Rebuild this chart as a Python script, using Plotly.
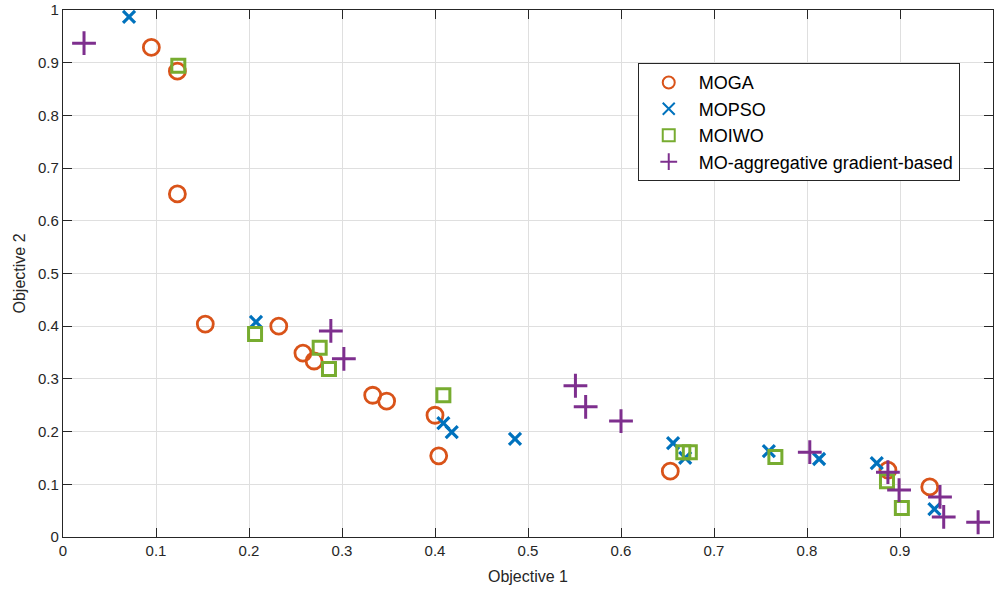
import plotly.graph_objects as go

moga_x = [0.095, 0.123, 0.123, 0.153, 0.232, 0.258, 0.270, 0.333, 0.348, 0.400, 0.404, 0.653, 0.887, 0.932]
moga_y = [0.929, 0.884, 0.651, 0.404, 0.400, 0.349, 0.334, 0.269, 0.258, 0.231, 0.154, 0.125, 0.127, 0.095]

mopso_x = [0.071, 0.2075, 0.409, 0.418, 0.486, 0.656, 0.669, 0.759, 0.813, 0.875, 0.937]
mopso_y = [0.987, 0.408, 0.216, 0.199, 0.186, 0.178, 0.150, 0.163, 0.148, 0.140, 0.053]

moiwo_x = [0.124, 0.2065, 0.276, 0.286, 0.409, 0.667, 0.674, 0.766, 0.886, 0.902]
moiwo_y = [0.894, 0.385, 0.359, 0.319, 0.269, 0.161, 0.161, 0.152, 0.106, 0.055]

moag_x = [0.0226, 0.288, 0.302, 0.551, 0.562, 0.600, 0.803, 0.887, 0.899, 0.943, 0.947, 0.984]
moag_y = [0.937, 0.391, 0.338, 0.287, 0.247, 0.220, 0.161, 0.123, 0.089, 0.076, 0.038, 0.028]

x_ticks = [0, 0.1, 0.2, 0.3, 0.4, 0.5, 0.6, 0.7, 0.8, 0.9, 1]
x_ticklabels = ["0", "0.1", "0.2", "0.3", "0.4", "0.5", "0.6", "0.7", "0.8", "0.9", "1"]
y_ticks = [0, 0.1, 0.2, 0.3, 0.4, 0.5, 0.6, 0.7, 0.8, 0.9, 1]
y_ticklabels = ["0", "0.1", "0.2", "0.3", "0.4", "0.5", "0.6", "0.7", "0.8", "0.9", "1"]

fig = go.Figure()
fig.add_trace(go.Scatter(x=moga_x, y=moga_y, mode="markers", name="MOGA",
                         marker=dict(symbol="circle-open", size=16, color="#D95319",
                                     line=dict(width=2.8, color="#D95319"))))
fig.add_trace(go.Scatter(x=mopso_x, y=mopso_y, mode="markers", name="MOPSO",
                         marker=dict(symbol="x-thin-open", size=12, color="#0072BD",
                                     line=dict(width=3.2, color="#0072BD"))))
fig.add_trace(go.Scatter(x=moiwo_x, y=moiwo_y, mode="markers", name="MOIWO",
                         marker=dict(symbol="square-open", size=13, color="#77AC30",
                                     line=dict(width=3, color="#77AC30"))))
fig.add_trace(go.Scatter(x=moag_x, y=moag_y, mode="markers", name="MO-aggregative gradient-based",
                         marker=dict(symbol="cross-thin-open", size=17, color="#7E2F8E",
                                     line=dict(width=3, color="#7E2F8E"))))

axis_common = dict(
    showgrid=True, gridcolor="#dfdfdf", gridwidth=1,
    showline=True, linecolor="#262626", linewidth=1.3, mirror="ticks",
    ticks="inside", ticklen=9, tickcolor="#262626", tickwidth=1.3,
    tickfont=dict(family="Liberation Sans, Arial", size=15, color="#262626"),
    zeroline=False, automargin=False,
)

fig.update_layout(
    width=994, height=589,
    margin=dict(l=63, r=1, t=10, b=52),
    plot_bgcolor="white", paper_bgcolor="white",
    font=dict(family="Liberation Sans, Arial", size=15, color="#262626"),
    xaxis=dict(range=[0, 1], tickvals=x_ticks, ticktext=x_ticklabels,
               title=dict(text="Objective 1", font=dict(size=16, color="#262626"), standoff=12),
               **axis_common),
    yaxis=dict(range=[0, 1], tickvals=y_ticks, ticktext=y_ticklabels,
               title=dict(text="Objective 2", font=dict(size=16, color="#262626"), standoff=8),
               **axis_common),
    legend=dict(x=0.618, y=0.899, xanchor="left", yanchor="top",
                bgcolor="white", bordercolor="#262626", borderwidth=1,
                font=dict(family="Liberation Sans, Arial", size=18, color="#000000"),
                tracegroupgap=0, itemsizing="constant", itemwidth=50),
    showlegend=True,
)

fig.write_html("out.html", config={"displayModeBar": False},
               post_script="document.body.style.margin='0';document.body.style.overflow='hidden';")
